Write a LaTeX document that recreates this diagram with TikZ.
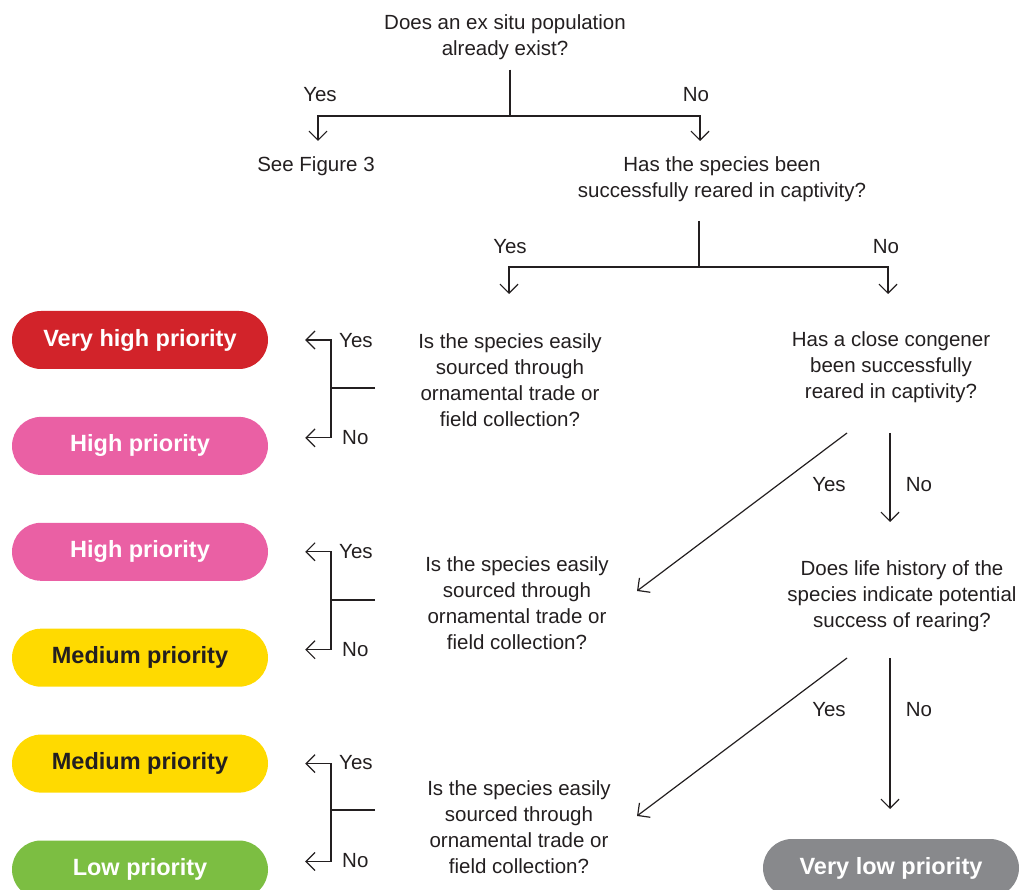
\documentclass[tikz,border=0pt]{standalone}
\usepackage{fontspec}
\setmainfont{Liberation Sans}
\usetikzlibrary{arrows.meta,positioning}

\definecolor{ink}{RGB}{35,31,32}
\definecolor{prred}{RGB}{210,35,42}
\definecolor{prpink}{RGB}{234,96,164}
\definecolor{pryellow}{RGB}{255,218,0}
\definecolor{prgreen}{RGB}{124,190,66}
\definecolor{prgrey}{RGB}{136,137,140}

\begin{document}
\begin{tikzpicture}[
        x=1pt, y=-1pt,
        node distance=47.5pt,
        q/.style={align=center, text=ink, font=\fontsize{20.5}{26}\selectfont, inner sep=2pt},
        lbl/.style={text=ink, font=\fontsize{20.5}{26}\selectfont, inner sep=0pt},
        badge/.style={rounded corners=29pt, minimum width=256pt, minimum height=58pt, inner sep=0pt, font=\fontsize{23.5}{28}\selectfont\bfseries, text=white},
        ln/.style={draw=ink, line width=1.2pt},
        arr/.style={ln, -{Straight Barb[length=9pt,width=18pt]}},
    ]
        \clip (0,0) rectangle (1021,890);
        % questions
        \node[q] (q1) at (505,37) {Does an ex situ population\\already exist?};
        \node[q] (fig3) at (316,166) {See Figure 3};
        \node[q] (q2) at (722,179) {Has the species been\\successfully reared in captivity?};
        \node[q] (q3) at (510,380) {Is the species easily\\sourced through\\ornamental trade or\\field collection?};
        \node[q] (q4) at (891,367) {Has a close congener\\been successfully\\reared in captivity?};
        \node[q] (q5) at (517,603) {Is the species easily\\sourced through\\ornamental trade or\\field collection?};
        \node[q] (q6) at (902,596) {Does life history of the\\species indicate potential\\success of rearing?};
        \node[q] (q7) at (519,827) {Is the species easily\\sourced through\\ornamental trade or\\field collection?};
        % priorities
        \node[badge, fill=prred] (vhigh) at (140,340) {Very high priority};
        \node[badge, fill=prpink, below=of vhigh] (high1) {High priority};
        \node[badge, fill=prpink, below=of high1] (high2) {High priority};
        \node[badge, fill=pryellow, text=ink, below=of high2] (med1) {Medium priority};
        \node[badge, fill=pryellow, text=ink, below=of med1] (med2) {Medium priority};
        \node[badge, fill=prgreen, below=of med2] (low) {Low priority};
        \node[badge, fill=prgrey] (vlow) at (891,868) {Very low priority};
        % junctions
        \coordinate (s1) at (510,116);
        \coordinate (t1y) at (318,141);
        \coordinate (t1n) at (700,141);
        \coordinate (s2) at (699,267);
        \coordinate (t2y) at (509,294);
        \coordinate (t2n) at (888,294);
        \coordinate (t3) at (375,388);
        \coordinate (b3) at (331,388);
        \coordinate (t5) at (375,600);
        \coordinate (b5) at (331,600);
        \coordinate (t7) at (375,810);
        \coordinate (b7) at (331,810);
        \coordinate (d4s) at (847,433);
        \coordinate (d4e) at (637,591);
        \coordinate (v4s) at (890,433);
        \coordinate (v4e) at (890,522);
        \coordinate (d6s) at (847,658);
        \coordinate (d6e) at (637,816);
        \coordinate (v6s) at (890,658);
        \coordinate (v6e) at (890,809);
        % connectors
        \draw[ln, shorten <=8pt] (q1.south -| s1) -- (s1);
        \draw[arr] (s1) -| (t1y);
        \draw[arr] (s1) -| (t1n);
        \draw[ln, shorten <=17pt] (q2.south -| s2) -- (s2);
        \draw[arr] (s2) -| (t2y);
        \draw[arr] (s2) -| (t2n);
        \draw[ln] (t3) -- (b3);
        \draw[arr, shorten >=37pt] (b3) |- (vhigh);
        \draw[arr, shorten >=37pt] (b3) |- ([yshift=8pt]high1.east);
        \draw[ln] (t5) -- (b5);
        \draw[arr, shorten >=37pt] (b5) |- (high2);
        \draw[arr, shorten >=37pt] (b5) |- ([yshift=8pt]med1.east);
        \draw[ln] (t7) -- (b7);
        \draw[arr, shorten >=37pt] (b7) |- (med2);
        \draw[arr, shorten >=37pt] (b7) |- ([yshift=8pt]low.east);
        \draw[arr] (d4s) -- (d4e);
        \draw[arr] (v4s) -- (v4e);
        \draw[arr] (d6s) -- (d6e);
        \draw[arr] (v6s) -- (v6e);
        % answers
        \node[lbl] (a1y) at (320,95) {Yes};
        \node[lbl] (a1n) at (696,95) {No};
        \node[lbl] (a2y) at (510,247) {Yes};
        \node[lbl] (a2n) at (886,247) {No};
        \node[lbl, anchor=west] (a3y) at (339,341) {Yes};
        \node[lbl, anchor=west] (a3n) at (342,438) {No};
        \node[lbl] (a4y) at (829,485) {Yes};
        \node[lbl] (a4n) at (919,485) {No};
        \node[lbl, anchor=west] (a5y) at (339,552) {Yes};
        \node[lbl, anchor=west] (a5n) at (342,650) {No};
        \node[lbl] (a6y) at (829,710) {Yes};
        \node[lbl] (a6n) at (919,710) {No};
        \node[lbl, anchor=west] (a7y) at (339,763) {Yes};
        \node[lbl, anchor=west] (a7n) at (342,861) {No};
    \end{tikzpicture}
\end{document}
